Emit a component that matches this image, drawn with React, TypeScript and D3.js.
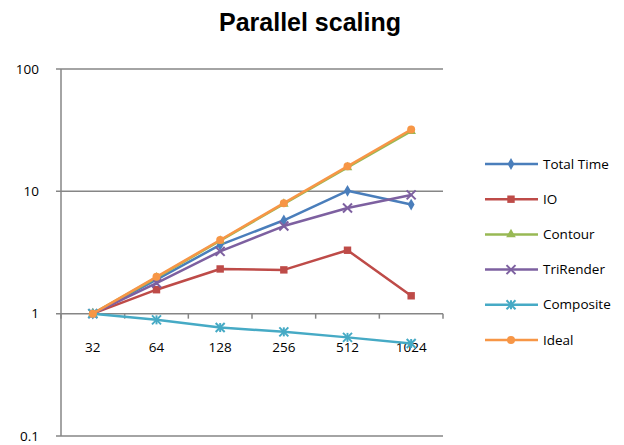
import React from 'react';
import * as d3 from 'd3';

const categories = ['32', '64', '128', '256', '512', '1024'];
const totalTime = [1, 1.9, 3.65, 5.8, 10.1, 7.8];
const io = [1, 1.57, 2.32, 2.28, 3.3, 1.4];
const contour = [1, 1.97, 3.95, 7.9, 15.7, 31];
const triRender = [1, 1.78, 3.23, 5.2, 7.3, 9.35];
const composite = [1, 0.89, 0.77, 0.71, 0.64, 0.57];
const ideal = [1, 2, 4, 8, 16, 32];
const yTicks = [0.1, 1, 10, 100];

const series = [
  { name: 'Total Time', values: totalTime, color: '#4A7EBB', marker: 'diamond' },
  { name: 'IO', values: io, color: '#BE4B48', marker: 'square' },
  { name: 'Contour', values: contour, color: '#98B954', marker: 'triangle' },
  { name: 'TriRender', values: triRender, color: '#7D60A0', marker: 'x' },
  { name: 'Composite', values: composite, color: '#46AAC5', marker: 'star' },
  { name: 'Ideal', values: ideal, color: '#F79646', marker: 'circle' },
];

const font = '"Open Sans", sans-serif';

const Marker = ({ type, x, y, color }: { type: string; x: number; y: number; color: string }) => {
  if (type === 'circle') return <circle cx={x} cy={y} r={4} fill={color} />;
  if (type === 'x' || type === 'star') {
    const s = 4.5;
    return (
      <g stroke={color} strokeWidth={2}>
        <line x1={x - s} y1={y - s} x2={x + s} y2={y + s} />
        <line x1={x - s} y1={y + s} x2={x + s} y2={y - s} />
        {type === 'star' && <line x1={x} y1={y - s} x2={x} y2={y + s} />}
      </g>
    );
  }
  const sym = type === 'diamond' ? d3.symbolDiamond : type === 'square' ? d3.symbolSquare : d3.symbolTriangle;
  const size = type === 'square' ? 55 : 40;
  return <path d={d3.symbol(sym, size)() || ''} transform={`translate(${x},${y})`} fill={color} />;
};

export default function App() {
  const width = 624;
  const height = 445;
  const left = 61;
  const right = 443;
  const top = 69;
  const bottom = 436;

  const x = d3.scaleBand().domain(categories).range([left, right]);
  const cx = (c: string) => (x(c) || 0) + x.bandwidth() / 2;
  const y = d3.scaleLog().domain([0.1, 100]).range([bottom, top]);

  const line = d3
    .line<number>()
    .x((d, i) => cx(categories[i]))
    .y((d) => y(d));

  const axisY = y(1);
  const boundaries = categories.map((c) => x(c) || 0).concat([right]);

  return (
    <svg width={width} height={height} style={{ position: 'absolute', left: 0, top: 0, background: '#fff' }}>
      <text x={310} y={31} textAnchor="middle" fontFamily='"Liberation Sans", Arial, sans-serif' fontWeight="bold" fontSize={25} fill="#000">
        Parallel scaling
      </text>

      {/* gridlines */}
      {yTicks.map((t) => (
        <g key={t}>
          <line x1={left - 5} x2={right} y1={y(t)} y2={y(t)} stroke="#868686" strokeWidth={1.5} />
          <text x={39} y={y(t) + 4.5} textAnchor="end" fontFamily={font} fontSize={13.5} fill="#000">
            {t}
          </text>
        </g>
      ))}
      <line x1={left} x2={left} y1={top} y2={bottom} stroke="#868686" strokeWidth={1.5} />

      {/* category axis at 1 */}
      {boundaries.map((b, i) => (
        <line key={i} x1={b} x2={b} y1={axisY} y2={axisY + 5} stroke="#868686" strokeWidth={1.5} />
      ))}
      {categories.map((c) => (
        <text key={c} x={cx(c)} y={axisY + 38} textAnchor="middle" fontFamily={font} fontSize={13.5} fill="#000">
          {c}
        </text>
      ))}

      {series.map((s) => (
        <g key={s.name}>
          <path d={line(s.values) || ''} fill="none" stroke={s.color} strokeWidth={2.5} strokeLinejoin="round" />
          {s.values.map((v, i) => (
            <Marker key={i} type={s.marker} x={cx(categories[i])} y={y(v)} color={s.color} />
          ))}
        </g>
      ))}

      {/* legend */}
      {series.map((s, i) => {
        const ly = 164 + i * 35.2;
        return (
          <g key={s.name}>
            <line x1={485} x2={538} y1={ly} y2={ly} stroke={s.color} strokeWidth={2.5} />
            <Marker type={s.marker} x={511} y={ly} color={s.color} />
            <text x={543} y={ly + 4.5} fontFamily={font} fontSize={13.5} fill="#000">
              {s.name}
            </text>
          </g>
        );
      })}
    </svg>
  );
}
